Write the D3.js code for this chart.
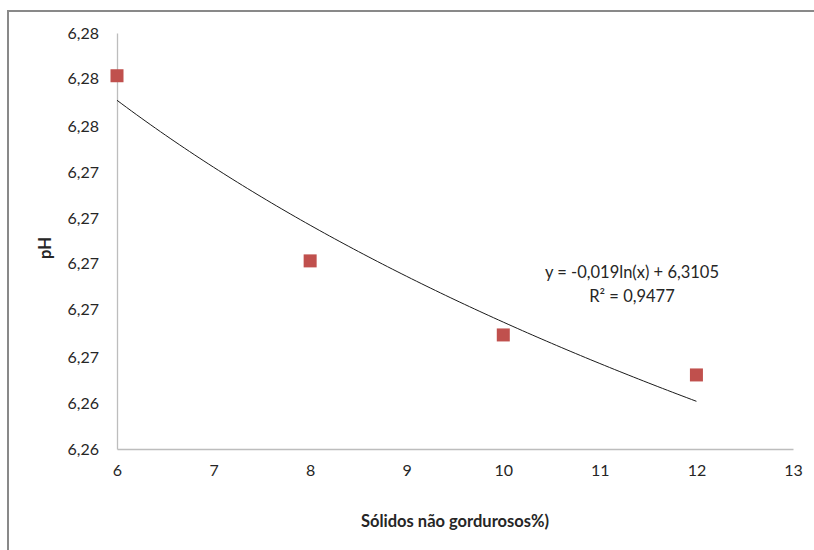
<!DOCTYPE html>
<html>
<head>
<meta charset="utf-8">
<script src="https://cdn.jsdelivr.net/npm/d3@7"></script>
<style>
  body { margin: 0; background: #fff; }
  text { font-family: Lato, "Open Sans", sans-serif; fill: #262626; }
</style>
</head>
<body>
<svg id="chart" width="814" height="550"></svg>
<script>
// data
const solidos = [6, 8, 10, 12];
const ph = [6.27753, 6.26943, 6.26619, 6.26444];

// axis ticks (excel rounds every label to 2 decimals)
const xTicks = [6, 7, 8, 9, 10, 11, 12, 13];
const yTicks = [6.2612, 6.2632, 6.2652, 6.2673, 6.2693, 6.2713, 6.2733, 6.2753, 6.2774, 6.2794];
const yTickLabels = ['6,26', '6,26', '6,27', '6,27', '6,27', '6,27', '6,27', '6,28', '6,28', '6,28'];

// trendline y = a ln(x) + b
const trendA = -0.019;
const trendB = 6.3105;
const equationLines = ['y = -0,019ln(x) + 6,3105', 'R² = 0,9477'];

const svg = d3.select('#chart');
const plotLeft = 117, plotRight = 793, plotTop = 33, plotBottom = 449;

const x = d3.scaleLinear().domain([6, 13]).range([plotLeft, plotRight]);
const y = d3.scaleLinear().domain([yTicks[0], yTicks[yTicks.length - 1]]).range([plotBottom, plotTop]);

// outer chart frame, mostly cut off on the right and bottom
svg.append('rect')
  .attr('x', 8).attr('y', 11)
  .attr('width', 830).attr('height', 560)
  .attr('fill', 'none')
  .attr('stroke', '#898989')
  .attr('stroke-width', 2);

// axes: grey lines, no tick marks
const xAxis = svg.append('g')
  .attr('transform', `translate(0,${plotBottom})`)
  .call(d3.axisBottom(x).tickValues(xTicks).tickSize(0).tickPadding(16).tickFormat(d => d));
const yAxis = svg.append('g')
  .attr('transform', `translate(${plotLeft},0)`)
  .call(d3.axisLeft(y).tickValues(yTicks).tickSize(0).tickPadding(18)
    .tickFormat((d, i) => yTickLabels[i]));

[xAxis, yAxis].forEach(g => {
  g.select('.domain').attr('stroke', '#bdbdbd').attr('stroke-width', 1.3);
  g.selectAll('text').attr('font-size', 16).attr('font-family', 'Lato, sans-serif').attr('fill', '#262626');
});

// trendline, only over the data range
const trend = d3.range(6, 12.001, 0.05).map(v => [v, trendA * Math.log(v) + trendB]);
svg.append('path')
  .datum(trend)
  .attr('fill', 'none')
  .attr('stroke', '#1a1a1a')
  .attr('stroke-width', 1)
  .attr('d', d3.line().x(d => x(d[0])).y(d => y(d[1])));

// square markers
const size = 13;
svg.selectAll('rect.pt')
  .data(solidos)
  .enter().append('rect')
  .attr('class', 'pt')
  .attr('x', d => x(d) - size / 2)
  .attr('y', (d, i) => y(ph[i]) - size / 2)
  .attr('width', size).attr('height', size)
  .attr('fill', '#c0504d');

// equation label
svg.append('text')
  .attr('x', 632).attr('y', 278)
  .attr('text-anchor', 'middle')
  .attr('font-size', 16.5)
  .selectAll('tspan')
  .data(equationLines)
  .enter().append('tspan')
  .attr('x', 632)
  .attr('dy', (d, i) => i ? 24 : 0)
  .text(d => d);

// axis titles
svg.append('text')
  .attr('x', 455).attr('y', 527)
  .attr('text-anchor', 'middle')
  .attr('font-size', 16.5).attr('font-weight', 'bold')
  .text('Sólidos não gordurosos%)');

svg.append('text')
  .attr('transform', 'translate(51,248) rotate(-90)')
  .attr('text-anchor', 'middle')
  .attr('font-size', 16.5).attr('font-weight', 'bold')
  .text('pH');
</script>
</body>
</html>
